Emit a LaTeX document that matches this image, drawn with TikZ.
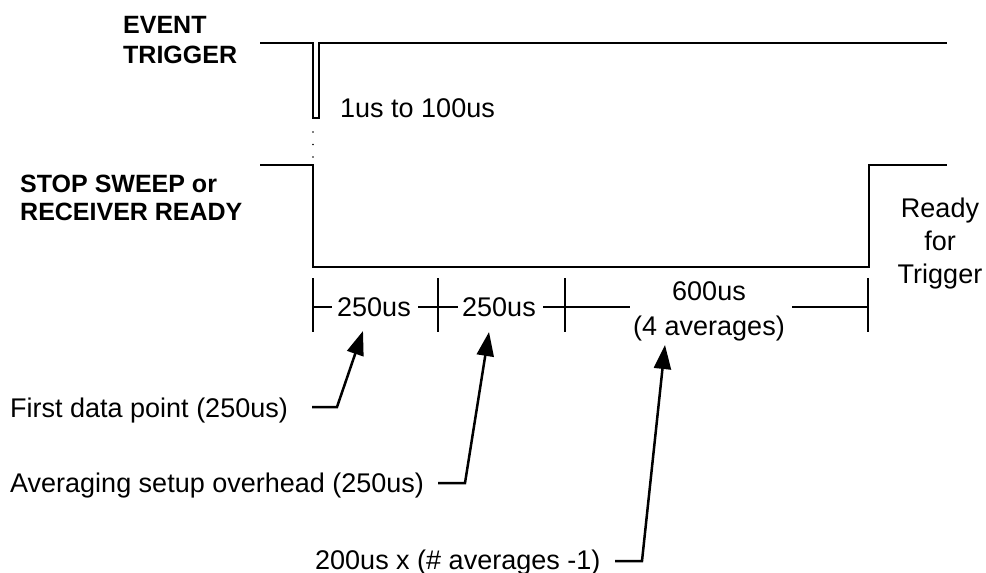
\documentclass[tikz,border=0pt]{standalone}
\usepackage{fontspec}
\setmainfont{Liberation Sans}
\usetikzlibrary{arrows.meta}
\begin{document}
\begin{tikzpicture}[x=1pt,y=-1pt,
  wave/.style={line width=2.8pt, line join=miter},
  sig/.style={font=\fontsize{25}{30}\selectfont\bfseries, inner sep=0pt, align=left},
  txt/.style={font=\fontsize{27}{33}\selectfont, inner sep=0pt},
  dim/.style={line width=2.2pt},
  lead/.style={line width=2.5pt, -{Triangle[length=24pt,width=17pt]}},
]
\useasboundingbox (0,0) rectangle (986,573);
% signal labels (base anchor = baseline of the last line)
\node[sig, anchor=base west] (evt) at (123,63) {EVENT\\TRIGGER};
\node[sig, anchor=base west, font=\fontsize{25}{28}\selectfont\bfseries] (stop) at (20,220) {STOP SWEEP or\\RECEIVER READY};
% waveforms
\coordinate (e0) at (260,43);
\coordinate (e1) at (947,43);
\draw[wave] (e0) -- (313,43) -- (313,118) -- (319,118) -- (319,43) -- (e1);
\coordinate (s0) at (260,165);
\coordinate (s1) at (947,165);
\draw[wave] (s0) -- (313,165) -- (313,267) -- (869,267) -- (869,165) -- (s1);
\draw[line width=1.8pt, line cap=round, dash pattern=on 0pt off 12.5pt] (313,132) -- (313,160);
\node[txt, anchor=base west] (width) at (340,117) {1us to 100us};
\node[txt, align=center, anchor=base] (ready) at (940,283) {Ready\\for\\Trigger};
% dimension row
\coordinate (t1a) at (313,278); \coordinate (t1b) at (313,332);
\coordinate (t2a) at (438,278); \coordinate (t2b) at (438,332);
\coordinate (t3a) at (565,278); \coordinate (t3b) at (565,332);
\coordinate (t4a) at (868,278); \coordinate (t4b) at (868,332);
\draw[dim] (t1a) -- (t1b) (t2a) -- (t2b) (t3a) -- (t3b) (t4a) -- (t4b);
\node[txt, anchor=base west] (d1) at (337,316) {250us};
\node[txt, anchor=base west] (d2) at (462,316) {250us};
\node[txt, align=center, anchor=base, font=\fontsize{27}{35}\selectfont] (d3) at (709,335) {600us\\(4 averages)};
\draw[dim] (313,307) -- (332,307) (418,307) -- (458,307) (543,307) -- (630,307) (792,307) -- (868,307);
% annotations
\node[txt, anchor=base west] (n1) at (10,417) {First data point (250us)};
\node[txt, anchor=base west] (n2) at (10,492) {Averaging setup overhead (250us)};
\node[txt, anchor=base west] (n3) at (315,569) {200us x (\# averages -1)};
\coordinate (p1) at (363,331);
\coordinate (p2) at (489,332);
\coordinate (p3) at (665,345);
\draw[lead] (312,407) -- (337,407) -- (p1);
\draw[lead] (438,483) -- (465,483) -- (p2);
\draw[lead] (615,561) -- (642,561) -- (p3);
\end{tikzpicture}
\end{document}
